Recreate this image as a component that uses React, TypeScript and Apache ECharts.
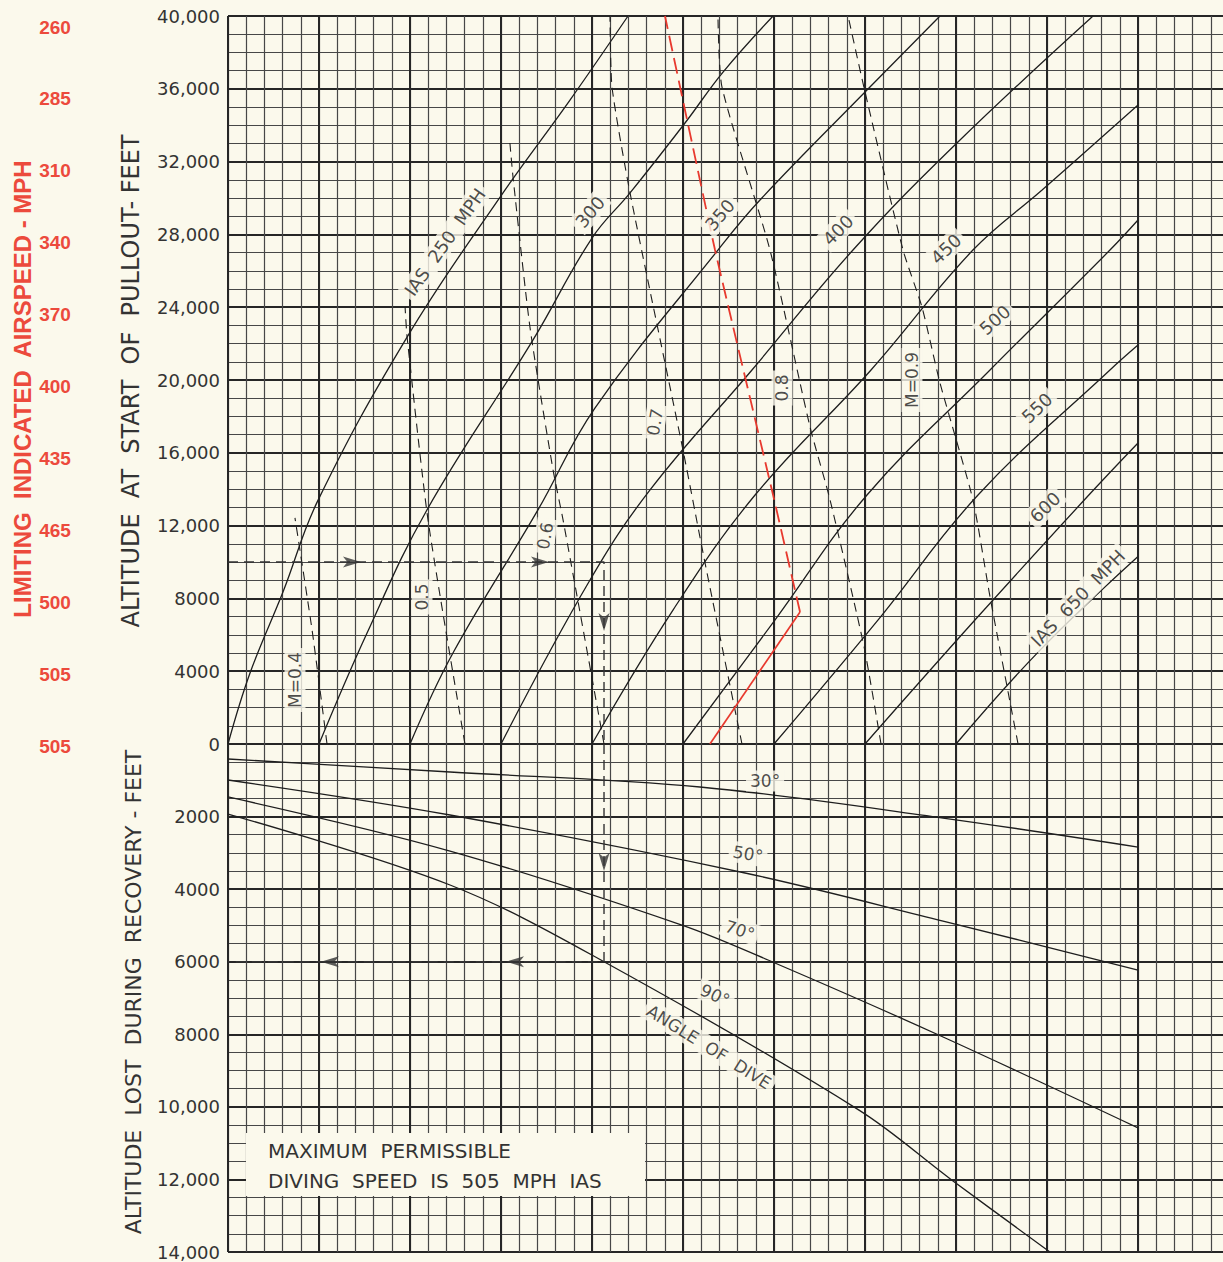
import React, { useEffect, useRef } from 'react';
import * as echarts from 'echarts';

// x: true airspeed scale of the chart (mph, unlabelled in the original), y: feet
const ias250 = [[250, 0], [262.1, 3900], [280.2, 8350], [299.5, 13400], [348.4, 22360], [399.5, 30050], [437.9, 35380], [469.8, 40000]];
const ias300 = [[300, 0], [326.4, 6100], [359.3, 12860], [417.6, 22200], [450.0, 27800], [470.9, 30280], [501.1, 34120], [522.0, 36920], [549.5, 40000]];
const ias350 = [[350, 0], [373.6, 5000], [420.3, 12860], [451.6, 18460], [519.2, 27140], [542.3, 29890], [601.1, 35930], [641.2, 40000]];
const ias400 = [[400, 0], [448.9, 9010], [481.9, 13960], [537.9, 20550], [593.4, 27140], [650.5, 33020], [725.3, 40000]];
const ias450 = [[450, 0], [494.5, 7360], [539.6, 13680], [603.3, 20550], [659.3, 27140], [697.3, 30440], [750, 35110]];
const ias500 = [[500, 0], [550.5, 6810], [601.1, 13680], [668.7, 20550], [734.6, 27140], [750, 28790]];
const ias550 = [[550, 0], [607.1, 6810], [662.1, 13680], [734.6, 20550], [750, 21920]];
const ias600 = [[600, 0], [660.4, 6810], [723.0, 13680], [750, 16540]];
const ias650 = [[650, 0], [696.2, 5160], [750, 10300]];
const iasCurves = [ias250, ias300, ias350, ias400, ias450, ias500, ias550, ias600, ias650];

const mach04 = [[304.4, 0], [296.2, 6260], [286.8, 12420]];
const mach05 = [[380.2, 0], [359.9, 12310], [348.4, 22360], [347.3, 24010]];
const mach06 = [[456.6, 0], [434.1, 12310], [428.6, 15060], [415.9, 22910], [406.6, 31150], [404.9, 33020]];
const mach07 = [[532.4, 0], [512.1, 9950], [500.0, 16150], [470.9, 30280], [461.0, 36100], [459.9, 40000]];
const mach08 = [[608.8, 0], [599.5, 5330], [580.8, 13410], [569.8, 17420], [547.8, 27140], [521.4, 36100], [519.2, 40000]];
const mach09 = [[684.1, 0], [668.7, 8080], [659.3, 13410], [641.2, 19840], [631.3, 24010], [620.9, 27140], [599.5, 36050], [590.7, 40000]];
const machLines = [mach04, mach05, mach06, mach07, mach08, mach09];

const limitSolid = [[514.8, 0], [564.3, 7250]];
const limitDashed = [[564.3, 7250], [549.5, 13680], [517.6, 27140], [490.1, 40000]];

// lower panel: altitude lost during recovery (feet)
const dive30 = [[250, 413], [372.0, 772], [509.3, 1185], [642.9, 2040], [750, 2840]];
const dive50 = [[250, 992], [372.0, 1957], [534.1, 3555], [642.9, 4880], [750, 6229]];
const dive70 = [[250, 1460], [372.0, 2950], [499.4, 4990], [550.5, 6035], [642.9, 8075], [750, 10580]];
const dive90 = [[250, 1930], [372.0, 3886], [456.6, 6000], [596.7, 10090], [647.8, 12020], [701.6, 14000]];
const diveCurves = [dive30, dive50, dive70, dive90];

const examplePathUpper = [[250, 10000], [456.6, 10000], [456.6, 0]];
const examplePathLower = [[456.6, 0], [456.6, 6000], [250, 6000]];
const arrowsUpper = [[318.1, 10000, 0], [421.4, 10000, 0], [456.6, 6700, -90]];
const arrowsLower = [[456.6, 3250, -90], [306.0, 6000, 180], [407.7, 6000, 180]];

const upperTickLabels = ['0', '4000', '8000', '12,000', '16,000', '20,000', '24,000', '28,000', '32,000', '36,000', '40,000'];
const lowerTickLabels = ['', '2000', '4000', '6000', '8000', '10,000', '12,000', '14,000'];
const limitingIAS = ['505', '505', '500', '465', '435', '400', '370', '340', '310', '285', '260'];

const iasLabelText = ['IAS  250  MPH', '300', '350', '400', '450', '500', '550', '600', 'IAS  650  MPH'];
const iasLabelAt = [[369.2, 27580], [448.9, 29230], [520.3, 29070], [585.2, 28240], [644.5, 27200], [671.4, 23300], [694.5, 18460], [698.9, 13020], [717.0, 8020]];
const iasLabelAngle = [55, 50, 49, 45, 43, 42, 43, 44, 46];

const machLabelText = ['M=0.4', '0.5', '0.6', '0.7', '0.8', 'M=0.9'];
const machLabelAt = [[286.8, 3520], [356.6, 8080], [424.2, 11430], [484.6, 17690], [554.4, 19560], [625.8, 20000]];
const machLabelAngle = [90, 90, 80, 80, 90, 90];

const diveLabelText = ['30°', '50°', '70°', '90°', 'ANGLE  OF  DIVE'];
const diveLabelAt = [[545.1, 1020], [535.7, 3030], [531.3, 5130], [517.6, 6920], [514.3, 8350]];
const diveLabelAngle = [0, -10, -18, -25, -32];

const PAPER = '#fbf9ec';
const INK = '#1e1e1e';
const RED = '#ec4a3c';
const FONT = '"DejaVu Sans", sans-serif';
const BOLD_FONT = '"Liberation Sans", Arial, sans-serif';
const MINOR = { color: '#474747', width: 1.2 };
const MAJOR = { color: '#262626', width: 2 };

const UP = { xAxisIndex: 0, yAxisIndex: 0 };
const LO = { xAxisIndex: 2, yAxisIndex: 2 };

function lineSeries(data: number[][], axes: any, lineStyle: any, smooth: number) {
  return {
    type: 'line', data, ...axes, symbol: 'none', showSymbol: false, smooth,
    lineStyle, silent: true, z: 3, animation: false,
  };
}

function labelSeries(texts: string[], at: number[][], angles: number[], axes: any, fontSize: number) {
  return {
    type: 'scatter', ...axes, symbolSize: 1, itemStyle: { color: 'rgba(0,0,0,0)' }, silent: true, z: 6,
    data: texts.map((t, i) => ({ name: t, value: at[i], label: { rotate: angles[i] } })),
    label: {
      show: true, position: 'inside', formatter: '{b}', color: INK, fontSize, fontFamily: FONT,
      backgroundColor: PAPER, padding: [2, 4],
    },
  };
}

function arrowSeries(pts: number[][], axes: any) {
  return {
    type: 'scatter', ...axes, silent: true, z: 7,
    symbol: 'path://M0,0L16,5L0,10L4,5Z', symbolSize: [18, 11],
    itemStyle: { color: '#333' },
    data: pts.map((p) => ({ value: [p[0], p[1]], symbolRotate: p[2] })),
  };
}

function xAxes(gridIndex: number) {
  const base = {
    type: 'value', gridIndex, min: 250, max: 800, position: 'bottom',
    axisLine: { show: false }, axisTick: { show: false }, axisLabel: { show: false },
  };
  return [
    { ...base, interval: 10, splitLine: { show: true, lineStyle: MINOR } },
    { ...base, interval: 50, splitLine: { show: true, lineStyle: MAJOR } },
  ];
}

const labelStyle = { color: '#333', fontSize: 18, fontFamily: FONT, margin: 8 };

const option: any = {
  animation: false,
  backgroundColor: PAPER,
  grid: [
    { left: 228, right: 11, top: 16, height: 728, outerBoundsMode: 'none' },
    { left: 228, right: 11, top: 744, height: 508, outerBoundsMode: 'none' },
    { left: 228, right: 11, top: 27, height: 719, outerBoundsMode: 'none' },
  ],
  xAxis: [
    ...xAxes(0),
    ...xAxes(1),
    { type: 'value', gridIndex: 2, min: 0, max: 1, show: false },
  ],
  yAxis: [
    {
      type: 'value', gridIndex: 0, min: 0, max: 40000, interval: 1000, position: 'left',
      axisLine: { show: false }, axisTick: { show: false }, axisLabel: { show: false },
      splitLine: { show: true, lineStyle: MINOR },
    },
    {
      type: 'value', gridIndex: 0, min: 0, max: 40000, interval: 4000, position: 'left',
      axisLine: { show: false }, axisTick: { show: false },
      axisLabel: { ...labelStyle, formatter: (v: number) => upperTickLabels[Math.round(v / 4000)] },
      splitLine: { show: true, lineStyle: MAJOR },
    },
    {
      type: 'value', gridIndex: 1, min: 0, max: 14000, interval: 500, inverse: true, position: 'left',
      axisLine: { show: false }, axisTick: { show: false }, axisLabel: { show: false },
      splitLine: { show: true, lineStyle: MINOR },
    },
    {
      type: 'value', gridIndex: 1, min: 0, max: 14000, interval: 2000, inverse: true, position: 'left',
      axisLine: { show: false }, axisTick: { show: false },
      axisLabel: { ...labelStyle, formatter: (v: number) => lowerTickLabels[Math.round(v / 2000)] },
      splitLine: { show: true, lineStyle: MAJOR },
    },
    {
      type: 'value', gridIndex: 2, min: 0, max: 10, interval: 1, position: 'left',
      axisLine: { show: false }, axisTick: { show: false }, splitLine: { show: false },
      axisLabel: {
        color: RED, fontSize: 19, fontWeight: 'bold', fontFamily: BOLD_FONT,
        align: 'center', margin: 173, formatter: (v: number) => limitingIAS[Math.round(v)],
      },
    },
  ],
  series: [
    ...iasCurves.map((c) => lineSeries(c, UP, { color: INK, width: 1.3 }, 0.4)),
    ...machLines.map((c) => lineSeries(c, UP, { color: INK, width: 1.1, type: [9, 6] }, 0.2)),
    lineSeries(limitSolid, UP, { color: '#e8392e', width: 1.7 }, 0),
    lineSeries(limitDashed, UP, { color: '#e8392e', width: 1.8, type: [16, 7] }, 0.1),
    ...diveCurves.map((c) => lineSeries(c, LO, { color: INK, width: 1.3 }, 0.35)),
    lineSeries(examplePathUpper, UP, { color: '#333', width: 1.4, type: [10, 6] }, 0),
    lineSeries(examplePathLower, LO, { color: '#333', width: 1.4, type: [10, 6] }, 0),
    arrowSeries(arrowsUpper, UP),
    arrowSeries(arrowsLower, LO),
    labelSeries(iasLabelText, iasLabelAt, iasLabelAngle, UP, 18),
    labelSeries(machLabelText, machLabelAt, machLabelAngle, UP, 17),
    labelSeries(diveLabelText, diveLabelAt, diveLabelAngle, LO, 17),
  ],
  graphic: [
    {
      type: 'text', x: 22, y: 389, rotation: Math.PI / 2, z: 10,
      style: {
        text: 'LIMITING  INDICATED  AIRSPEED - MPH', fill: RED, fontSize: 24, fontWeight: 'bold',
        fontFamily: BOLD_FONT, align: 'center', verticalAlign: 'middle',
      },
    },
    {
      type: 'text', x: 131, y: 381, rotation: Math.PI / 2, z: 10,
      style: {
        text: 'ALTITUDE  AT  START  OF  PULLOUT- FEET', fill: '#333', fontSize: 24,
        fontFamily: FONT, align: 'center', verticalAlign: 'middle',
      },
    },
    {
      type: 'text', x: 133, y: 992, rotation: Math.PI / 2, z: 10,
      style: {
        text: 'ALTITUDE  LOST  DURING  RECOVERY - FEET', fill: '#333', fontSize: 22,
        fontFamily: FONT, align: 'center', verticalAlign: 'middle',
      },
    },
    { type: 'rect', z: 10, shape: { x: 246, y: 1133, width: 399, height: 63 }, style: { fill: PAPER } },
    {
      type: 'text', x: 268, y: 1151, z: 11,
      style: { text: 'MAXIMUM  PERMISSIBLE', fill: '#333', fontSize: 20, fontFamily: FONT, align: 'left', verticalAlign: 'middle' },
    },
    {
      type: 'text', x: 268, y: 1181, z: 11,
      style: { text: 'DIVING  SPEED  IS  505  MPH  IAS', fill: '#333', fontSize: 20, fontFamily: FONT, align: 'left', verticalAlign: 'middle' },
    },
  ],
};

export default function App() {
  const ref = useRef<HTMLDivElement>(null);
  useEffect(() => {
    document.body.style.margin = '0';
    document.body.style.overflow = 'hidden';
    const chart = echarts.init(ref.current as HTMLDivElement, null, { renderer: 'svg' });
    chart.setOption(option);
    return () => chart.dispose();
  }, []);
  return (
    <div
      ref={ref}
      style={{ position: 'fixed', left: 0, top: 0, width: 1240, height: 1262, background: PAPER }}
    />
  );
}
